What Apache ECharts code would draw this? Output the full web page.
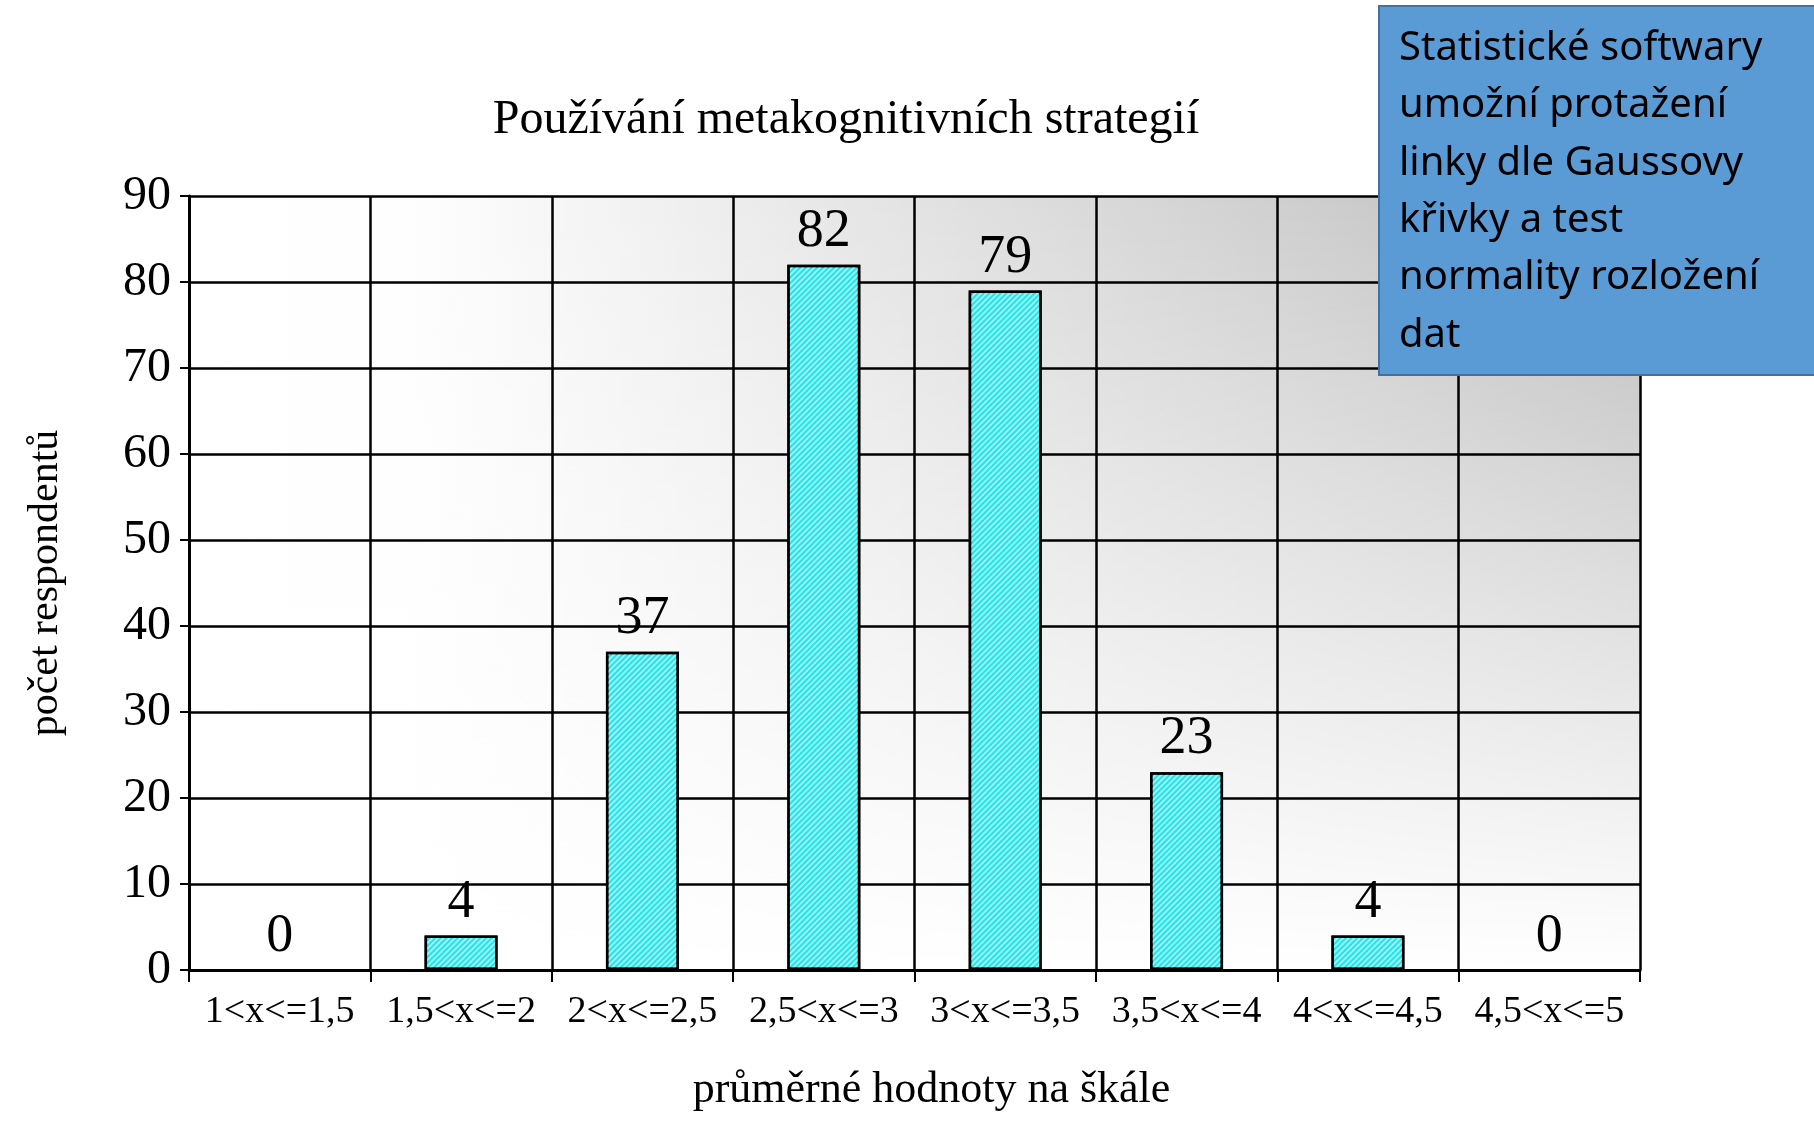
<!DOCTYPE html>
<html>
<head>
<meta charset="utf-8">
<script src="https://cdn.jsdelivr.net/npm/echarts@6/dist/echarts.min.js"></script>
<style>html,body{margin:0;padding:0;background:#fff}#c{width:1814px;height:1124px}</style>
</head>
<body>
<div id="c"></div>
<script>
var categories = ['1<x<=1,5', '1,5<x<=2', '2<x<=2,5', '2,5<x<=3', '3<x<=3,5', '3,5<x<=4', '4<x<=4,5', '4,5<x<=5'];
var values = [0, 4, 37, 82, 79, 23, 4, 0];
var titleText = 'Používání metakognitivních strategií';
var xName = 'průměrné hodnoty na škále';
var yName = 'počet respondentů';
var noteLines = ['Statistické softwary', 'umožní protažení', 'linky dle Gaussovy', 'křivky a test', 'normality rozložení', 'dat'];

var serif = '"Liberation Serif", "Times New Roman", serif';
var G = { left: 189, top: 196, right: 174, bottom: 154 };
var gw = 1814 - G.left - G.right, gh = 1124 - G.top - G.bottom;

var barData = values.map(function (v) {
  return v === 0 ? { value: v, itemStyle: { borderWidth: 0 } } : v;
});

var chart = echarts.init(document.getElementById('c'));
chart.setOption({
  backgroundColor: '#ffffff',
  animation: false,
  title: {
    text: titleText,
    left: 841, top: 91, textAlign: 'center',
    textStyle: { fontFamily: serif, fontSize: 48, fontWeight: 'normal', color: '#000' }
  },
  grid: { left: G.left, top: G.top, right: G.right, bottom: G.bottom, containLabel: false },
  xAxis: {
    type: 'category',
    data: categories,
    name: xName,
    nameLocation: 'middle',
    nameGap: 98,
    nameTextStyle: { fontFamily: serif, fontSize: 44, color: '#000', padding: [0, 0, 0, 34] },
    axisLine: { show: true, lineStyle: { color: '#000', width: 3 } },
    axisTick: { show: true, length: 12, lineStyle: { color: '#000', width: 2 }, alignWithLabel: false, interval: 0 },
    axisLabel: { interval: 0, margin: 23, fontFamily: serif, fontSize: 38, color: '#000' },
    splitLine: { show: true, interval: 0, lineStyle: { color: '#000', width: 2.5 } }
  },
  yAxis: {
    type: 'value',
    min: 0, max: 90, interval: 10,
    name: yName,
    nameLocation: 'middle',
    nameRotate: 90,
    nameGap: 122,
    nameTextStyle: { fontFamily: serif, fontSize: 42, color: '#000' },
    axisLine: { show: true, lineStyle: { color: '#000', width: 3 } },
    axisTick: { show: true, length: 9, lineStyle: { color: '#000', width: 2 } },
    axisLabel: { margin: 18, fontFamily: serif, fontSize: 48, color: '#000' },
    splitLine: { show: true, lineStyle: { color: '#000', width: 2.5 } }
  },
  series: [{
    type: 'bar',
    data: barData,
    barWidth: 73,
    itemStyle: {
      color: '#22e4ea',
      borderColor: '#000',
      borderWidth: 2.5,
      decal: {
        symbol: 'rect', symbolSize: 1,
        color: 'rgba(255,255,255,0.55)',
        dashArrayX: [1, 0], dashArrayY: [2, 2],
        rotation: -Math.PI / 4
      }
    },
    label: {
      show: true, position: 'top', distance: 6,
      fontFamily: serif, fontSize: 54, color: '#000'
    }
  }],
  graphic: [
    {
      type: 'rect', z: -20, silent: true,
      shape: { x: G.left, y: G.top, width: gw, height: gh },
      style: { fill: new echarts.graphic.LinearGradient(0, 0, 1, 0, [
        { offset: 0, color: '#ffffff' }, { offset: 0.15, color: '#fefefe' },
        { offset: 1, color: '#bcbcbc' }]) }
    },
    {
      type: 'rect', z: -19, silent: true,
      shape: { x: G.left, y: G.top, width: gw, height: gh },
      style: { fill: new echarts.graphic.LinearGradient(0, 1, 0, 0, [
        { offset: 0, color: 'rgba(255,255,255,1)' },
        { offset: 1, color: 'rgba(255,255,255,0)' }]) }
    },
    {
      type: 'rect', z: 100, silent: true,
      shape: { x: 1379, y: 6, width: 450, height: 369 },
      style: { fill: '#5b9bd5', stroke: '#41719c', lineWidth: 2 }
    },
    {
      type: 'text', z: 101, silent: true,
      x: 1399, y: 20,
      style: {
        text: noteLines.join('\n'),
        font: '40px "Noto Sans", "Open Sans", sans-serif',
        lineHeight: 57.3,
        fill: '#000', align: 'left', verticalAlign: 'top'
      }
    }
  ]
});
</script>
</body>
</html>
